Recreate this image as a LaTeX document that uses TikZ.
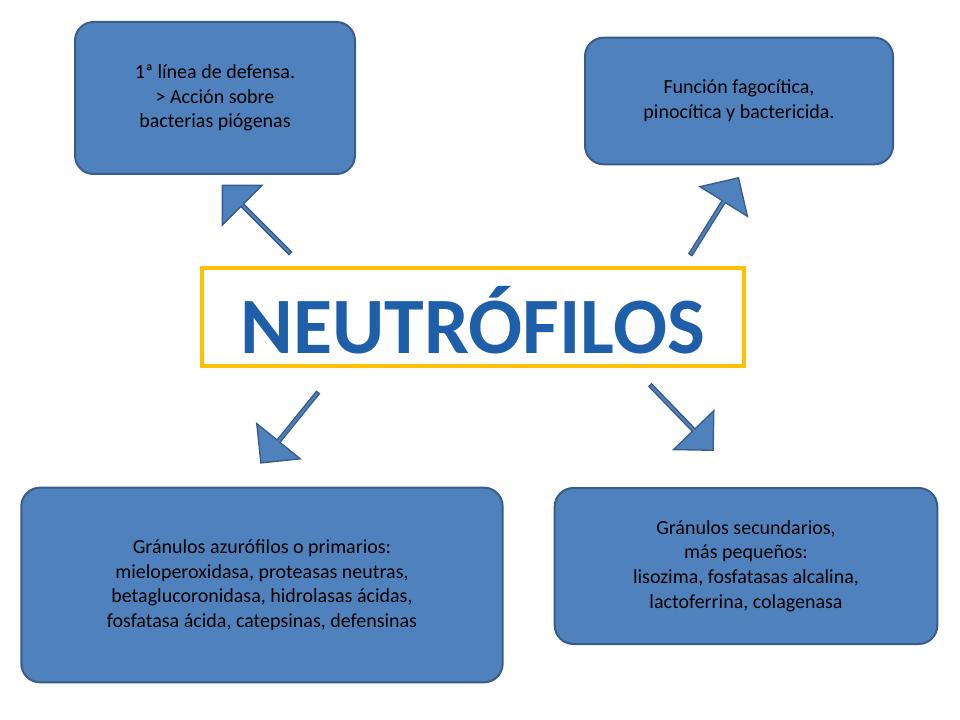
\documentclass[tikz,border=0pt]{standalone}
\usepackage{fontspec}
\setmainfont{Carlito}
\usetikzlibrary{shapes.arrows}
\definecolor{boxblue}{RGB}{79,129,189}
\definecolor{boxline}{RGB}{56,93,138}
\definecolor{titleblue}{RGB}{31,95,170}
\definecolor{frameyellow}{RGB}{255,192,0}
\tikzstyle{infobox}=[draw=boxline,fill=boxblue,line width=1.5pt,rounded corners=14pt,align=center,font=\fontsize{15}{18.5}\selectfont]
\tikzstyle{blockarrow}=[single arrow,draw=boxline,fill=boxblue,line width=1pt,inner sep=0pt,minimum width=42pt,single arrow head extend=7pt,minimum height=72pt]

\begin{document}
\begin{tikzpicture}[x=0.75pt,y=-0.75pt]
        \useasboundingbox (0,0) rectangle (960,720);
        \node[infobox,minimum width=210pt,minimum height=114pt] (defensa) at (215,98) {1ª línea de defensa.\\> Acción sobre\\bacterias piógenas};
        \node[infobox,minimum width=231pt,minimum height=95pt] (funcion) at (739,101) {Función fagocítica,\\pinocítica y bactericida.};
        \node[infobox,minimum width=361pt,minimum height=146pt] (primarios) at (262,585) {Gránulos azurófilos o primarios:\\mieloperoxidasa, proteasas neutras,\\betaglucoronidasa, hidrolasas ácidas,\\fosfatasa ácida, catepsinas, defensinas};
        \node[infobox,minimum width=287pt,minimum height=117pt] (secundarios) at (746,566) {Gránulos secundarios,\\más pequeños:\\lisozima, fosfatasas alcalina,\\lactoferrina, colagenasa};
        \node[draw=frameyellow,line width=3pt,minimum width=406pt,minimum height=73pt] (titulo) at (473,317) {};
        \node[text=titleblue,font=\fontsize{60}{60}\bfseries\selectfont] (nombre) at (473,320) {NEUTRÓFILOS};
        \node[blockarrow,rotate=135] (flechaA) at (257,220) {};
        \node[blockarrow,rotate=58,minimum height=68pt] (flechaB) at (714,217) {};
        \node[blockarrow,rotate=231,minimum height=68pt] (flechaC) at (290,427) {};
        \node[blockarrow,rotate=-46,minimum height=68pt] (flechaD) at (681,417) {};
      \end{tikzpicture}
\end{document}
